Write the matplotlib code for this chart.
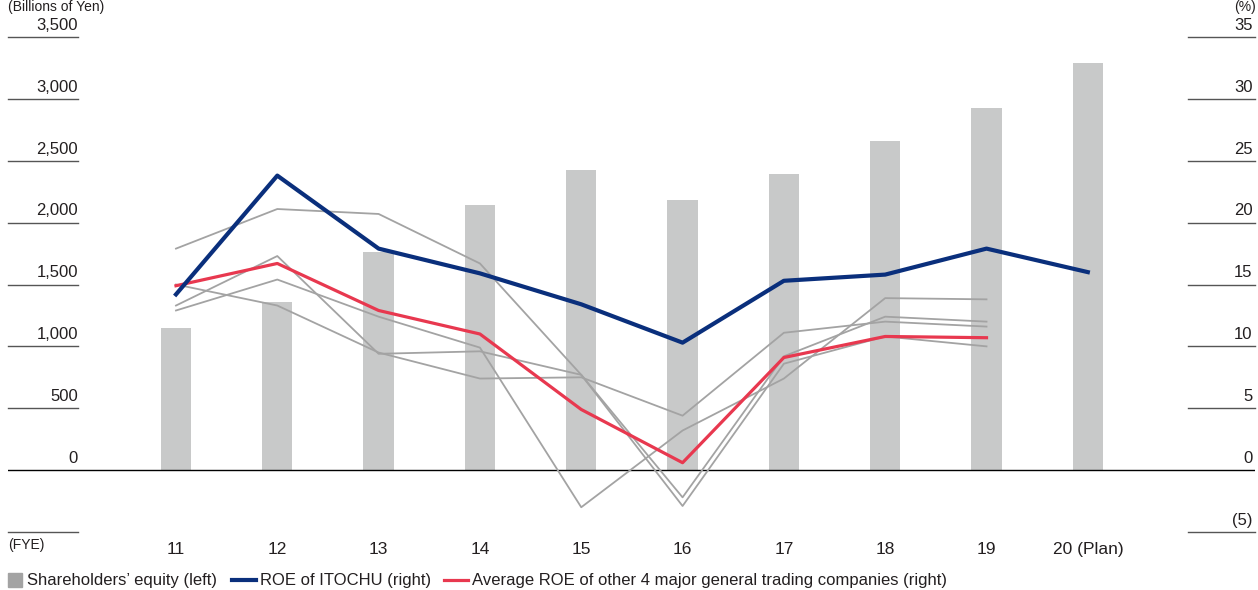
import numpy as np
import matplotlib
matplotlib.use("Agg")
import matplotlib.pyplot as plt
from matplotlib.lines import Line2D
from matplotlib.patches import Rectangle

plt.rcParams['font.family'] = ['Liberation Sans', 'DejaVu Sans']

# data
years = ["11", "12", "13", "14", "15", "16", "17", "18", "19", "20 (Plan)"]
equity = [1150, 1355, 1760, 2140, 2425, 2185, 2395, 2660, 2925, 3290]
roe_itochu = [14.2, 23.8, 17.9, 15.9, 13.4, 10.3, 15.3, 15.8, 17.9, 16.0]
roe_avg_others = [14.9, 16.7, 12.9, 11.0, 4.9, 0.6, 9.1, 10.8, 10.7]
peer_a = [17.9, 21.1, 20.7, 16.7, 7.7, -2.2, 9.2, 12.4, 12.0]
peer_b = [15.0, 13.3, 9.5, 7.4, 7.5, 4.4, 11.1, 12.0, 11.6]
peer_c = [13.3, 17.3, 9.4, 9.6, 7.7, -2.9, 8.6, 10.8, 10.0]
peer_d = [12.9, 15.4, 12.4, 9.9, -3.0, 3.2, 7.4, 13.9, 13.8]
left_ticks = [0, 500, 1000, 1500, 2000, 2500, 3000, 3500]
right_ticks = [-5, 0, 5, 10, 15, 20, 25, 30, 35]
right_labels = ["(5)", "0", "5", "10", "15", "20", "25", "30", "35"]

txt = "#231f20"
W, H = 1258, 590
fig = plt.figure(figsize=(W / 100, H / 100), dpi=100)
ax = fig.add_axes([8 / W, (H - 532) / H, 1247 / W, 495 / H])
ax2 = ax.twinx()

x = np.arange(len(years))
x_peer = np.arange(len(peer_a))

ax.bar(x, equity, width=0.30, color="#c8c9c9", zorder=1)
ax.set_ylim(-500, 3500)
ax.set_xlim(-1.658, 10.65)

# zero line across the chart
ax.axhline(0, color="black", lw=1.0, zorder=2)

ytr = ax.get_yaxis_transform()
for v in left_ticks + [-500]:
    if v != 0:
        ax.plot([0, 0.0561], [v, v], transform=ytr, color="#555555", lw=1.0, clip_on=False)
for v in left_ticks:
    ax.annotate(f"{v:,}", xy=(0.0561, v), xycoords=ytr, xytext=(0, 3), textcoords="offset points",
                ha="right", va="bottom", fontsize=12, color=txt)

for peer in [peer_a, peer_b, peer_c, peer_d]:
    ax2.plot(x_peer, peer, color="#a3a3a3", lw=1.3, zorder=3)
ax2.plot(x_peer, roe_avg_others, color="#e8384f", lw=2.3, zorder=4)
ax2.plot(x, roe_itochu, color="#0a2f7c", lw=3.0, zorder=5)
ax2.set_ylim(-5, 35)

ytr2 = ax2.get_yaxis_transform()
for v, lab in zip(right_ticks, right_labels):
    if v != 0:
        ax2.plot([0.9463, 1.0], [v, v], transform=ytr2, color="#555555", lw=1.0, clip_on=False)
    ax2.annotate(lab, xy=(0.998, v), xycoords=ytr2, xytext=(0, 3), textcoords="offset points",
                 ha="right", va="bottom", fontsize=12, color=txt)

for a in (ax, ax2):
    for s in a.spines.values():
        s.set_visible(False)
    a.set_yticks([])
ax.set_xticks(x)
ax.set_xticklabels(years, fontsize=12.5, color=txt)
ax.tick_params(axis="x", length=0, pad=7)

# units and FYE
fig.text(8 / W, 1 - 7 / H, "(Billions of Yen)", ha="left", va="center", fontsize=10, color=txt)
fig.text(1256 / W, 1 - 7 / H, "(%)", ha="right", va="center", fontsize=10, color=txt)
fig.text(8 / W, 1 - 545 / H, "(FYE)", ha="left", va="center", fontsize=10, color=txt)

# legend row
ly = 1 - 580 / H
fig.patches.append(Rectangle((8 / W, ly - 7 / H), 14 / W, 14 / H, transform=fig.transFigure,
                             color="#a3a3a3"))
fig.text(27 / W, ly, "Shareholders\u2019 equity (left)", ha="left", va="center", fontsize=12, color=txt)
fig.lines.append(Line2D([232 / W, 256 / W], [ly, ly], transform=fig.transFigure, color="#0a2f7c", lw=3))
fig.text(260 / W, ly, "ROE of ITOCHU (right)", ha="left", va="center", fontsize=12, color=txt)
fig.lines.append(Line2D([444 / W, 468 / W], [ly, ly], transform=fig.transFigure, color="#e8384f", lw=2.3))
fig.text(472 / W, ly, "Average ROE of other 4 major general trading companies (right)",
         ha="left", va="center", fontsize=12, color=txt)

fig.savefig("out.png", dpi=100)
